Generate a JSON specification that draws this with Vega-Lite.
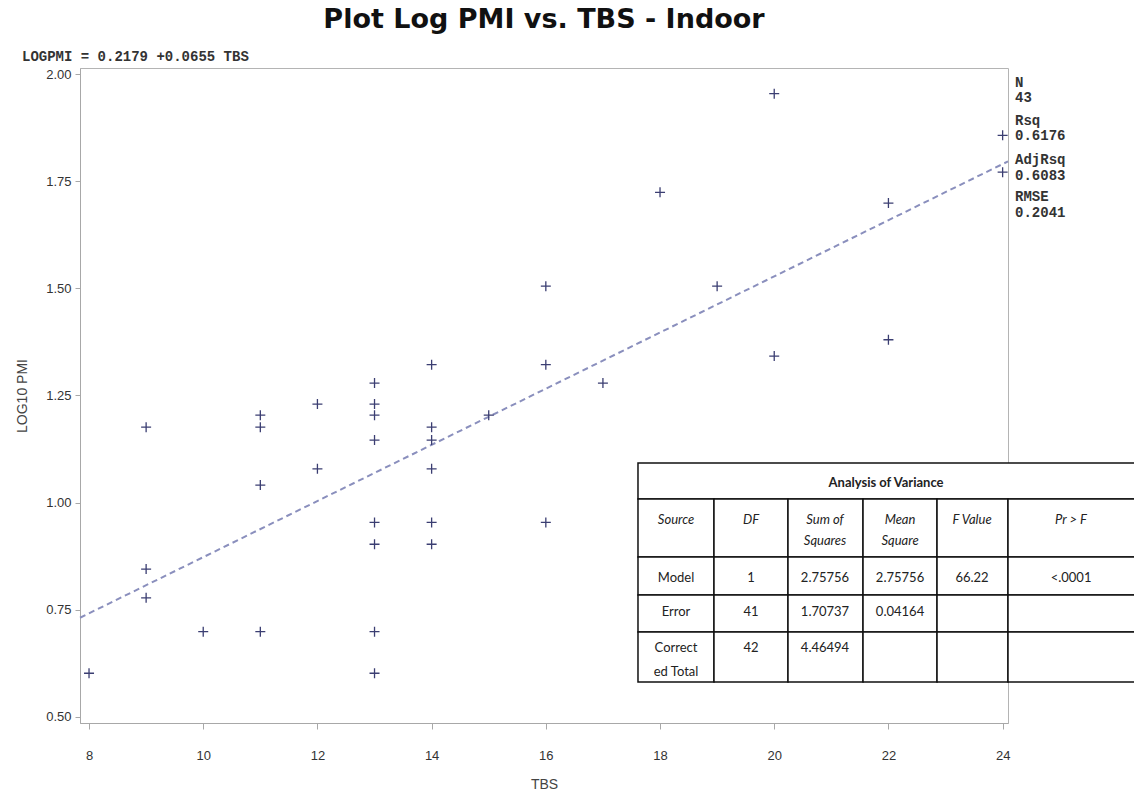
{
  "$schema": "https://vega.github.io/schema/vega-lite/v6.json",
  "autosize": {"type": "none"},
  "width": 928,
  "height": 655,
  "padding": {"left": 80, "top": 68, "right": 126, "bottom": 73},
  "background": "white",
  "title": {
    "text": "Plot Log PMI vs. TBS - Indoor",
    "font": "DejaVu Sans",
    "fontWeight": "bold",
    "fontSize": 27,
    "color": "#111111",
    "anchor": "middle",
    "frame": "group",
    "offset": 16
  },
  "config": {
    "view": {"stroke": "#b4b4b4", "strokeWidth": 1},
    "axis": {
      "grid": false,
      "domainColor": "#a8a8a8",
      "tickColor": "#a8a8a8",
      "labelFont": "Liberation Sans",
      "labelFontSize": 13,
      "labelColor": "#333333",
      "titleFont": "Liberation Sans",
      "titleFontSize": 14,
      "titleFontWeight": "normal",
      "titleColor": "#444444"
    }
  },
  "datasets": {
    "obs": [
      {"TBS": 8, "LOGPMI": 0.602},
      {"TBS": 9, "LOGPMI": 1.176},
      {"TBS": 9, "LOGPMI": 0.845},
      {"TBS": 9, "LOGPMI": 0.778},
      {"TBS": 10, "LOGPMI": 0.699},
      {"TBS": 11, "LOGPMI": 1.204},
      {"TBS": 11, "LOGPMI": 1.176},
      {"TBS": 11, "LOGPMI": 1.041},
      {"TBS": 11, "LOGPMI": 0.699},
      {"TBS": 12, "LOGPMI": 1.23},
      {"TBS": 12, "LOGPMI": 1.079},
      {"TBS": 13, "LOGPMI": 1.279},
      {"TBS": 13, "LOGPMI": 1.23},
      {"TBS": 13, "LOGPMI": 1.204},
      {"TBS": 13, "LOGPMI": 1.146},
      {"TBS": 13, "LOGPMI": 0.954},
      {"TBS": 13, "LOGPMI": 0.903},
      {"TBS": 13, "LOGPMI": 0.699},
      {"TBS": 13, "LOGPMI": 0.602},
      {"TBS": 14, "LOGPMI": 1.322},
      {"TBS": 14, "LOGPMI": 1.176},
      {"TBS": 14, "LOGPMI": 1.146},
      {"TBS": 14, "LOGPMI": 1.079},
      {"TBS": 14, "LOGPMI": 0.954},
      {"TBS": 14, "LOGPMI": 0.903},
      {"TBS": 15, "LOGPMI": 1.204},
      {"TBS": 16, "LOGPMI": 1.505},
      {"TBS": 16, "LOGPMI": 1.322},
      {"TBS": 16, "LOGPMI": 0.954},
      {"TBS": 17, "LOGPMI": 1.279},
      {"TBS": 18, "LOGPMI": 1.724},
      {"TBS": 19, "LOGPMI": 1.505},
      {"TBS": 20, "LOGPMI": 1.954},
      {"TBS": 20, "LOGPMI": 1.342},
      {"TBS": 22, "LOGPMI": 1.699},
      {"TBS": 22, "LOGPMI": 1.38},
      {"TBS": 24, "LOGPMI": 1.857},
      {"TBS": 24, "LOGPMI": 1.771}
    ],
    "fitline": [
      {"TBS": 7.842, "LOGPMI": 0.7315},
      {"TBS": 24.094, "LOGPMI": 1.7961}
    ],
    "anovaCells": [
      {"x1": 17.614, "x2": 26.4, "y1": 1.0086, "y2": 1.0926},
      {"x1": 17.614, "x2": 18.945, "y1": 0.8733, "y2": 1.0086},
      {"x1": 18.945, "x2": 20.241, "y1": 0.8733, "y2": 1.0086},
      {"x1": 20.241, "x2": 21.555, "y1": 0.8733, "y2": 1.0086},
      {"x1": 21.555, "x2": 22.851, "y1": 0.8733, "y2": 1.0086},
      {"x1": 22.851, "x2": 24.094, "y1": 0.8733, "y2": 1.0086},
      {"x1": 24.094, "x2": 26.4, "y1": 0.8733, "y2": 1.0086},
      {"x1": 17.614, "x2": 18.945, "y1": 0.7847, "y2": 0.8733},
      {"x1": 18.945, "x2": 20.241, "y1": 0.7847, "y2": 0.8733},
      {"x1": 20.241, "x2": 21.555, "y1": 0.7847, "y2": 0.8733},
      {"x1": 21.555, "x2": 22.851, "y1": 0.7847, "y2": 0.8733},
      {"x1": 22.851, "x2": 24.094, "y1": 0.7847, "y2": 0.8733},
      {"x1": 24.094, "x2": 26.4, "y1": 0.7847, "y2": 0.8733},
      {"x1": 17.614, "x2": 18.945, "y1": 0.6984, "y2": 0.7847},
      {"x1": 18.945, "x2": 20.241, "y1": 0.6984, "y2": 0.7847},
      {"x1": 20.241, "x2": 21.555, "y1": 0.6984, "y2": 0.7847},
      {"x1": 21.555, "x2": 22.851, "y1": 0.6984, "y2": 0.7847},
      {"x1": 22.851, "x2": 24.094, "y1": 0.6984, "y2": 0.7847},
      {"x1": 24.094, "x2": 26.4, "y1": 0.6984, "y2": 0.7847},
      {"x1": 17.614, "x2": 18.945, "y1": 0.5818, "y2": 0.6984},
      {"x1": 18.945, "x2": 20.241, "y1": 0.5818, "y2": 0.6984},
      {"x1": 20.241, "x2": 21.555, "y1": 0.5818, "y2": 0.6984},
      {"x1": 21.555, "x2": 22.851, "y1": 0.5818, "y2": 0.6984},
      {"x1": 22.851, "x2": 24.094, "y1": 0.5818, "y2": 0.6984},
      {"x1": 24.094, "x2": 26.4, "y1": 0.5818, "y2": 0.6984}
    ],
    "anovaHead": [
      {"x": 18.28, "y": 0.9597, "label": "Source"},
      {"x": 19.593, "y": 0.9597, "label": "DF"},
      {"x": 20.889, "y": 0.9597, "label": "Sum of"},
      {"x": 20.889, "y": 0.9107, "label": "Squares"},
      {"x": 22.203, "y": 0.9597, "label": "Mean"},
      {"x": 22.203, "y": 0.9107, "label": "Square"},
      {"x": 23.464, "y": 0.9597, "label": "F Value"},
      {"x": 25.198, "y": 0.9597, "label": "Pr > F"}
    ],
    "anovaBody": [
      {"x": 18.28, "y": 0.8244, "label": "Model"},
      {"x": 19.593, "y": 0.8244, "label": "1"},
      {"x": 20.889, "y": 0.8244, "label": "2.75756"},
      {"x": 22.203, "y": 0.8244, "label": "2.75756"},
      {"x": 23.464, "y": 0.8244, "label": "66.22"},
      {"x": 25.198, "y": 0.8244, "label": "<.0001"},
      {"x": 18.28, "y": 0.745, "label": "Error"},
      {"x": 19.593, "y": 0.745, "label": "41"},
      {"x": 20.889, "y": 0.745, "label": "1.70737"},
      {"x": 22.203, "y": 0.745, "label": "0.04164"},
      {"x": 18.28, "y": 0.661, "label": "Correct"},
      {"x": 18.28, "y": 0.6051, "label": "ed Total"},
      {"x": 19.593, "y": 0.661, "label": "42"},
      {"x": 20.889, "y": 0.661, "label": "4.46494"}
    ],
    "stats": [
      {"x": 24.217, "y": 1.979, "label": "N"},
      {"x": 24.217, "y": 1.944, "label": "43"},
      {"x": 24.217, "y": 1.89, "label": "Rsq"},
      {"x": 24.217, "y": 1.855, "label": "0.6176"},
      {"x": 24.217, "y": 1.7994, "label": "AdjRsq"},
      {"x": 24.217, "y": 1.7621, "label": "0.6083"},
      {"x": 24.217, "y": 1.713, "label": "RMSE"},
      {"x": 24.217, "y": 1.6758, "label": "0.2041"}
    ],
    "equation": [
      {"x": 6.826, "y": 2.0397, "label": "LOGPMI = 0.2179 +0.0655 TBS"}
    ]
  },
  "layer": [
    {
      "data": {"name": "fitline"},
      "mark": {"type": "line", "color": "#8a8fbd", "strokeWidth": 2, "strokeDash": [6, 4]},
      "encoding": {
        "x": {
          "field": "TBS", "type": "quantitative", "title": "TBS",
          "scale": {"domain": [7.842, 24.094], "nice": false, "zero": false},
          "axis": {"values": [8, 10, 12, 14, 16, 18, 20, 22, 24], "format": "d", "tickSize": 6, "labelPadding": 20, "titlePadding": 15}
        },
        "y": {
          "field": "LOGPMI", "type": "quantitative", "title": "LOG10 PMI",
          "scale": {"domain": [0.486, 2.014], "nice": false, "zero": false},
          "axis": {"values": [0.5, 0.75, 1.0, 1.25, 1.5, 1.75, 2.0], "format": ".2f", "tickSize": 5, "labelPadding": 4, "titlePadding": 16}
        }
      }
    },
    {
      "data": {"name": "obs"},
      "mark": {"type": "point", "shape": "M-1,0H1M0,-1V1", "size": 100, "filled": false, "stroke": "#3b3e72", "strokeWidth": 1.3, "opacity": 1},
      "encoding": {
        "x": {"field": "TBS", "type": "quantitative", "title": "TBS"},
        "y": {"field": "LOGPMI", "type": "quantitative", "title": "LOG10 PMI"}
      }
    },
    {
      "data": {"name": "anovaCells"},
      "mark": {"type": "rect", "fill": "white", "stroke": "#111111", "strokeWidth": 1.5},
      "encoding": {
        "x": {"field": "x1", "type": "quantitative", "title": "TBS"},
        "x2": {"field": "x2"},
        "y": {"field": "y1", "type": "quantitative", "title": "LOG10 PMI"},
        "y2": {"field": "y2"}
      }
    },
    {
      "data": {"values": [{"x": 21.958, "y": 1.046, "label": "Analysis of Variance"}]},
      "mark": {"type": "text", "font": "Lato", "fontSize": 13, "fontWeight": "bold", "color": "#222222", "align": "center", "baseline": "middle"},
      "encoding": {
        "x": {"field": "x", "type": "quantitative", "title": "TBS"},
        "y": {"field": "y", "type": "quantitative", "title": "LOG10 PMI"},
        "text": {"field": "label"}
      }
    },
    {
      "data": {"name": "anovaHead"},
      "mark": {"type": "text", "font": "Lato", "fontSize": 13, "fontStyle": "italic", "color": "#222222", "align": "center", "baseline": "middle"},
      "encoding": {
        "x": {"field": "x", "type": "quantitative", "title": "TBS"},
        "y": {"field": "y", "type": "quantitative", "title": "LOG10 PMI"},
        "text": {"field": "label"}
      }
    },
    {
      "data": {"name": "anovaBody"},
      "mark": {"type": "text", "font": "Lato", "fontSize": 13, "color": "#222222", "align": "center", "baseline": "middle"},
      "encoding": {
        "x": {"field": "x", "type": "quantitative", "title": "TBS"},
        "y": {"field": "y", "type": "quantitative", "title": "LOG10 PMI"},
        "text": {"field": "label"}
      }
    },
    {
      "data": {"name": "stats"},
      "mark": {"type": "text", "font": "Liberation Mono", "fontSize": 14, "fontWeight": "bold", "color": "#333333", "align": "left", "baseline": "middle"},
      "encoding": {
        "x": {"field": "x", "type": "quantitative", "title": "TBS"},
        "y": {"field": "y", "type": "quantitative", "title": "LOG10 PMI"},
        "text": {"field": "label"}
      }
    },
    {
      "data": {"name": "equation"},
      "mark": {"type": "text", "font": "Liberation Mono", "fontSize": 14, "fontWeight": "bold", "color": "#333333", "align": "left", "baseline": "middle"},
      "encoding": {
        "x": {"field": "x", "type": "quantitative", "title": "TBS"},
        "y": {"field": "y", "type": "quantitative", "title": "LOG10 PMI"},
        "text": {"field": "label"}
      }
    }
  ]
}
